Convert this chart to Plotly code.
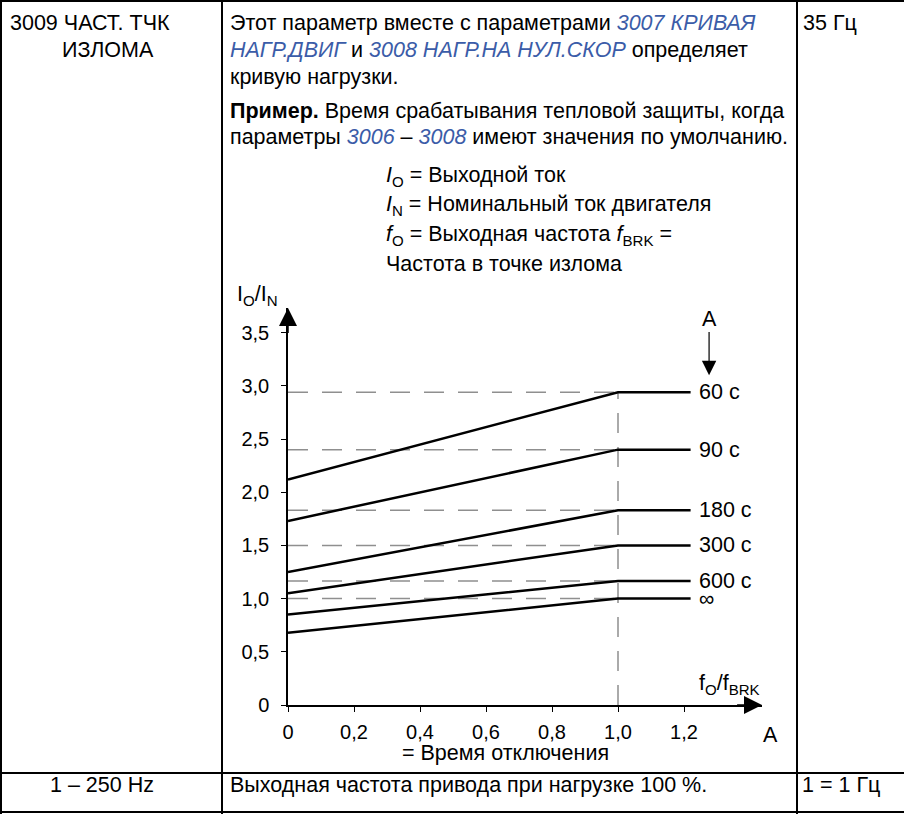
import plotly.graph_objects as go

W, H = 904, 814
FONT = "Liberation Sans, Arial, sans-serif"
FS = 21.5
TFS = 20
BLUE = "#3b5ca8"

# ---- data ----
curve_labels = ["60 с", "90 с", "180 с", "300 с", "600 с", "∞"]
start_vals = [2.12, 1.73, 1.25, 1.05, 0.85, 0.68]
break_vals = [2.94, 2.40, 1.83, 1.50, 1.165, 1.00]
break_x = 1.0
end_x = 1.22
x_ticks = [0, 0.2, 0.4, 0.6, 0.8, 1.0, 1.2]
x_tick_labels = ["0", "0,2", "0,4", "0,6", "0,8", "1,0", "1,2"]
y_ticks = [0, 0.5, 1.0, 1.5, 2.0, 2.5, 3.0, 3.5]
y_tick_labels = ["0", "0,5", "1,0", "1,5", "2,0", "2,5", "3,0", "3,5"]

X0_PX, XEND_PX, XUNIT = 288, 762, 330.0
Y0_PX, YEND_PX, YUNIT = 705, 308, 106.4
x_max = (XEND_PX - X0_PX) / XUNIT
y_max = (Y0_PX - YEND_PX) / YUNIT


def px(x):
    return x / W


def py(y):
    return 1 - y / H


fig = go.Figure()

for b in break_vals:
    fig.add_trace(go.Scatter(x=[0, break_x], y=[b, b], mode="lines",
                             line=dict(color="#8f8f8f", width=1.5, dash="20px,14px"),
                             hoverinfo="skip", showlegend=False))
fig.add_trace(go.Scatter(x=[break_x, break_x], y=[0, max(break_vals)], mode="lines",
                         line=dict(color="#8f8f8f", width=1.5, dash="20px,14px"),
                         hoverinfo="skip", showlegend=False))

for s, b in zip(start_vals, break_vals):
    fig.add_trace(go.Scatter(x=[0, break_x, end_x], y=[s, b, b], mode="lines",
                             line=dict(color="black", width=2.5),
                             hoverinfo="skip", showlegend=False))

annotations = []
for lab, b in zip(curve_labels, break_vals):
    annotations.append(dict(x=end_x + 0.02, y=b, xref="x", yref="y", text=lab,
                            showarrow=False, xanchor="left", yanchor="middle",
                            font=dict(size=FS, family=FONT, color="black")))

annotations.append(dict(x=x_max, y=0, ax=x_max - 0.08, ay=0, xref="x", yref="y",
                        axref="x", ayref="y", text="", showarrow=True,
                        arrowhead=2, arrowsize=2.4, arrowwidth=1.5, arrowcolor="black"))
annotations.append(dict(x=0, y=y_max, ax=0, ay=y_max - 0.25, xref="x", yref="y",
                        axref="x", ayref="y", text="", showarrow=True,
                        arrowhead=2, arrowsize=2.4, arrowwidth=1.5, arrowcolor="black"))
annotations.append(dict(x=1.276, y=3.10, ax=1.276, ay=3.52, xref="x", yref="y",
                        axref="x", ayref="y", text="", showarrow=True,
                        arrowhead=2, arrowsize=2.4, arrowwidth=1.2, arrowcolor="black"))


def txt(x, baseline, text, anchor="left", size=FS):
    annotations.append(dict(x=px(x), y=py(baseline - 0.35 * size), xref="paper", yref="paper",
                            text=text, showarrow=False, xanchor=anchor, yanchor="middle",
                            font=dict(size=size, color="black", family=FONT)))


def bl(t):
    return f"<i><span style='color:{BLUE}'>{t}</span></i>"


txt(709, 327, "A", anchor="center")
txt(235, 303, "I<sub>O</sub>/I<sub>N</sub>")
txt(697, 692, "f<sub>O</sub>/f<sub>BRK</sub>")
txt(770, 743, "A", anchor="center")
txt(505, 761, "= Время отключения", anchor="center")

txt(8, 31, "3009 ЧАСТ. ТЧК")
txt(60, 58, "ИЗЛОМА")
txt(228, 31, "Этот параметр вместе с параметрами " + bl("3007 КРИВАЯ"))
txt(228, 58, bl("НАГР.ДВИГ") + " и " + bl("3008 НАГР.НА НУЛ.СКОР") + " определяет")
txt(228, 85, "кривую нагрузки.")
txt(228, 119, "<b>Пример.</b> Время срабатывания тепловой защиты, когда")
txt(228, 145, "параметры " + bl("3006") + " – " + bl("3008") + " имеют значения по умолчанию.")
txt(801, 31, "35 Гц")

txt(384, 184, "<i>I</i><sub>O</sub> = Выходной ток")
txt(384, 213, "<i>I</i><sub>N</sub> = Номинальный ток двигателя")
txt(384, 243, "<i>f</i><sub>O</sub> = Выходная частота <i>f</i><sub>BRK</sub> =")
txt(384, 272, "Частота в точке излома")

txt(102, 793, "1 – 250 Hz", anchor="center")
txt(228, 793, "Выходная частота привода при нагрузке 100 %.")
txt(800, 793, "1 = 1 Гц")

shapes = []
def line(x0, y0, x1, y1, w=2):
    shapes.append(dict(type="line", xref="paper", yref="paper",
                       x0=px(x0), y0=py(y0), x1=px(x1), y1=py(y1),
                       line=dict(color="black", width=w)))

line(0, 1, W, 1)
line(0, 812, W, 812)
line(1, 0, 1, H)
line(0, 773, W, 773)
line(222, 0, 222, H)
line(797, 0, 797, H)

fig.update_layout(
    template="none",
    width=W, height=H, margin=dict(l=0, r=0, t=0, b=0, pad=0, autoexpand=False),
    paper_bgcolor="white", plot_bgcolor="white",
    font=dict(family=FONT, size=FS, color="black"),
    showlegend=False,
    annotations=annotations, shapes=shapes,
    xaxis=dict(domain=[px(X0_PX), px(XEND_PX)], range=[0, x_max], automargin=False,
               tickvals=x_ticks, ticktext=x_tick_labels,
               showgrid=False, zeroline=False, showline=True, linecolor="black",
               linewidth=1.5, ticks="outside", ticklen=5, tickcolor="black",
               ticklabelstandoff=3, tickfont=dict(size=TFS, family=FONT)),
    yaxis=dict(domain=[1 - Y0_PX / H, 1 - YEND_PX / H], range=[0, y_max], automargin=False,
               tickvals=y_ticks, ticktext=y_tick_labels,
               showgrid=False, zeroline=False, showline=True, linecolor="black",
               linewidth=1.5, ticks="outside", ticklen=5, tickcolor="black",
               ticklabelstandoff=8, tickfont=dict(size=TFS, family=FONT)),
)

fig.write_html("out.html", config={"displayModeBar": False},
               post_script="document.body.style.margin='0';")
